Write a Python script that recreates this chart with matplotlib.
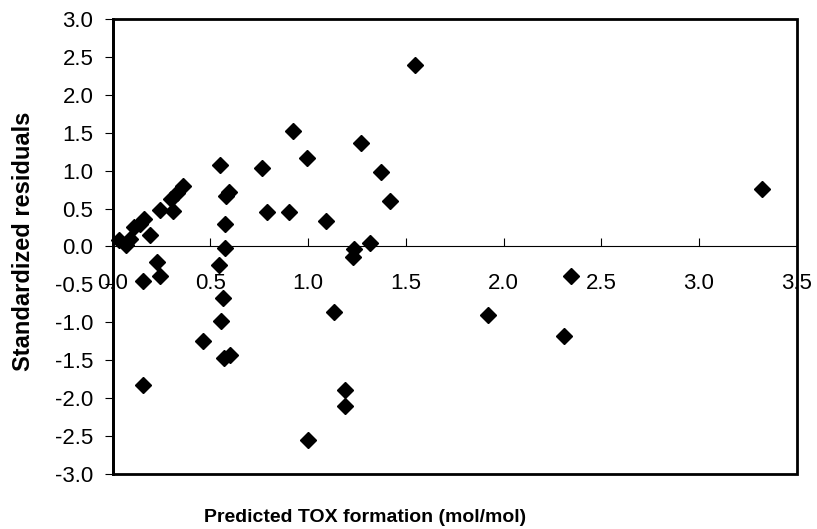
import matplotlib
matplotlib.use("Agg")
import matplotlib.pyplot as plt
from matplotlib.patches import Rectangle
from matplotlib.ticker import FormatStrFormatter

plt.rcParams['font.family'] = ['Liberation Sans', 'DejaVu Sans']
plt.rcParams['axes.unicode_minus'] = False

# predicted TOX formation vs standardized residuals
predicted = [0.03, 0.07, 0.09, 0.11, 0.14, 0.16, 0.19, 0.24, 0.30, 0.31, 0.33, 0.36,
             0.225, 0.24, 0.157, 0.157, 0.464, 0.542, 0.551, 0.553, 0.563, 0.567,
             0.60, 0.575, 0.575, 0.58, 0.597, 0.766, 0.791, 0.90, 0.924, 0.996,
             0.998, 1.09, 1.134, 1.19, 1.19, 1.232, 1.237, 1.269, 1.317, 1.373,
             1.419, 1.547, 1.919, 2.31, 2.345, 3.325]
residuals = [0.08, 0.02, 0.10, 0.26, 0.30, 0.36, 0.15, 0.48, 0.63, 0.47, 0.70, 0.79,
             -0.21, -0.39, -0.45, -1.83, -1.25, -0.25, 1.07, -0.98, -0.68, -1.47,
             -1.43, -0.02, 0.29, 0.67, 0.72, 1.03, 0.46, 0.46, 1.52, 1.17,
             -2.55, 0.33, -0.86, -1.89, -2.10, -0.14, -0.03, 1.36, 0.05, 0.98,
             0.60, 2.39, -0.90, -1.18, -0.39, 0.76]

x_ticks = [0.0, 0.5, 1.0, 1.5, 2.0, 2.5, 3.0, 3.5]
y_ticks = [-3.0, -2.5, -2.0, -1.5, -1.0, -0.5, 0.0, 0.5, 1.0, 1.5, 2.0, 2.5, 3.0]

fig = plt.figure(figsize=(8.17, 5.29), dpi=100)
ax = fig.add_axes([0.138, 0.1034, 0.975 - 0.138, 0.9647 - 0.1034])

ax.plot(predicted, residuals, linestyle='none', marker='D', markersize=8,
        color='black', clip_on=False, zorder=3)

ax.set_xlim(0, 3.5)
ax.set_ylim(-3, 3)
ax.set_xticks(x_ticks)
ax.set_yticks(y_ticks)
ax.xaxis.set_major_formatter(FormatStrFormatter('%.1f'))
ax.yaxis.set_major_formatter(FormatStrFormatter('%.1f'))

# x axis sits on the zero line, the box is drawn separately
ax.spines['bottom'].set_position(('data', 0))
ax.spines['bottom'].set_linewidth(0.8)
ax.spines['top'].set_visible(False)
ax.spines['right'].set_visible(False)
ax.spines['left'].set_linewidth(2)

ax.tick_params(axis='x', direction='in', length=6, width=0.8, pad=19, labelsize=16)
ax.tick_params(axis='y', direction='out', length=6, width=0.8, pad=8, labelsize=16)

ax.add_patch(Rectangle((0, 0), 1, 1, transform=ax.transAxes, fill=False,
                       edgecolor='black', linewidth=2, clip_on=False, zorder=5))

fig.text(0.029, 0.544, 'Standardized residuals', rotation=90, ha='center',
         va='center', fontsize=17, fontweight='bold')
fig.text(0.447, 0.014, 'Predicted TOX formation (mol/mol)', ha='center',
         va='baseline', fontsize=14, fontweight='bold')

fig.savefig('out.png', dpi=100)
